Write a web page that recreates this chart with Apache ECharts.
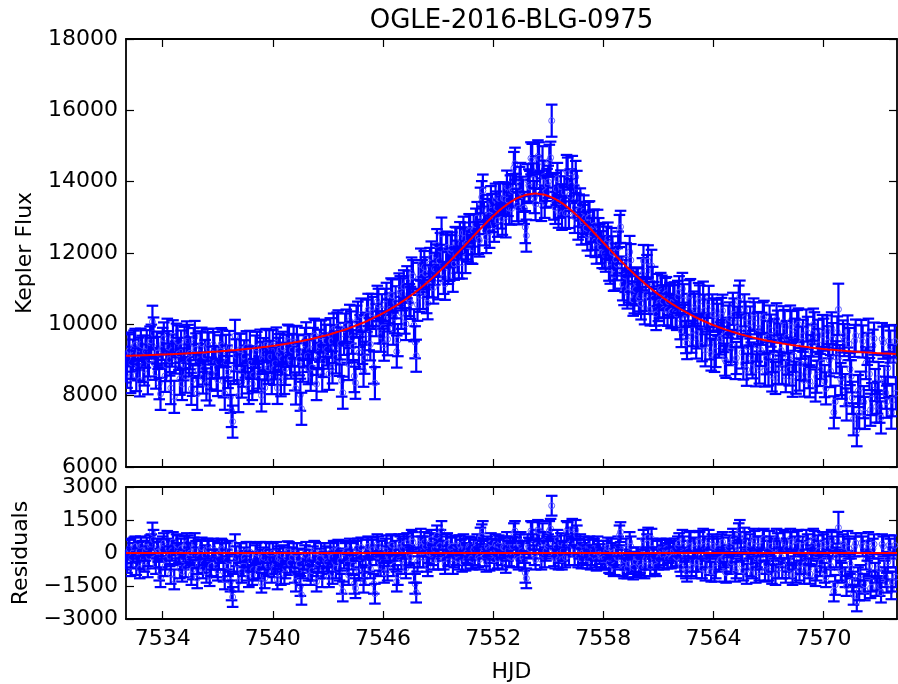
<!DOCTYPE html>
<html><head><meta charset="utf-8">
<script src="https://cdn.jsdelivr.net/npm/echarts@6/dist/echarts.min.js"></script>
<style>html,body{margin:0;padding:0;background:#fff}#c{width:898px;height:684px}</style>
</head><body><div id="c"></div>
<script>
// Observation times, cadence set A (HJD - 2450000)
const hjdA = [
7532.06,7532.19,7532.31,7532.44,7532.56,7532.69,7532.81,7532.94,
7533.06,7533.19,7533.31,7533.44,7533.56,7533.69,7533.81,7533.94,
7534.06,7534.19,7534.31,7534.44,7534.56,7534.69,7534.81,7534.94,
7535.06,7535.19,7535.31,7535.44,7535.56,7535.69,7535.81,7535.94,
7536.06,7536.19,7536.31,7536.44,7536.56,7536.69,7536.81,7536.94,
7537.06,7537.19,7537.31,7537.44,7537.56,7537.69,7537.81,7537.94,
7538.06,7538.19,7538.31,7538.44,7538.56,7538.69,7538.81,7538.94,
7539.06,7539.19,7539.31,7539.44,7539.56,7539.69,7539.81,7539.94,
7540.06,7540.19,7540.31,7540.44,7540.56,7540.69,7540.81,7540.94,
7541.06,7541.19,7541.31,7541.44,7541.56,7541.69,7541.81,7541.94,
7542.06,7542.19,7542.31,7542.44,7542.56,7542.69,7542.81,7542.94,
7543.06,7543.19,7543.31,7543.44,7543.56,7543.69,7543.81,7543.94,
7544.06,7544.19,7544.31,7544.44,7544.56,7544.69,7544.81,7544.94,
7545.06,7545.19,7545.31,7545.44,7545.56,7545.69,7545.81,7545.94,
7546.06,7546.19,7546.31,7546.44,7546.56,7546.69,7546.81,7546.94,
7547.06,7547.19,7547.31,7547.44,7547.56,7547.69,7547.81,7547.94,
7548.06,7548.19,7548.31,7548.44,7548.56,7548.69,7548.81,7548.94,
7549.06,7549.19,7549.31,7549.44,7549.56,7549.69,7549.81,7549.94,
7550.06,7550.19,7550.31,7550.44,7550.56,7550.69,7550.81,7550.94,
7551.06,7551.19,7551.31,7551.44,7551.56,7551.69,7551.81,7551.94,
7552.06,7552.19,7552.31,7552.44,7552.56,7552.69,7552.81,7552.94,
7553.06,7553.19,7553.31,7553.44,7553.56,7553.69,7553.81,7553.94,
7554.06,7554.19,7554.31,7554.44,7554.56,7554.69,7554.81,7554.94,
7555.06,7555.19,7555.31,7555.44,7555.56,7555.69,7555.81,7555.94,
7556.06,7556.19,7556.31,7556.44,7556.56,7556.69,7556.81,7556.94,
7557.06,7557.19,7557.31,7557.44,7557.56,7557.69,7557.81,7557.94,
7558.06,7558.19,7558.31,7558.44,7558.56,7558.69,7558.81,7558.94,
7559.06,7559.19,7559.31,7559.44,7559.56,7559.69,7559.81,7559.94,
7560.06,7560.19,7560.31,7560.44,7560.56,7560.69,7560.81,7560.94,
7561.06,7561.19,7561.31,7561.44,7561.56,7561.69,7561.81,7561.94,
7562.06,7562.19,7562.31,7562.44,7562.56,7562.69,7562.81,7562.94,
7563.06,7563.19,7563.31,7563.44,7563.56,7563.69,7563.81,7563.94,
7564.06,7564.19,7564.31,7564.44,7564.56,7564.69,7564.81,7564.94,
7565.06,7565.19,7565.31,7565.44,7565.56,7565.69,7565.81,7565.94,
7566.06,7566.19,7566.31,7566.44,7566.56,7566.69,7566.81,7566.94,
7567.06,7567.19,7567.31,7567.44,7567.56,7567.69,7567.81,7567.94,
7568.06,7568.19,7568.31,7568.44,7568.56,7568.69,7568.81,7568.94,
7569.06,7569.19,7569.31,7569.44,7569.56,7569.69,7569.81,7569.94,
7570.06,7570.19,7570.31,7570.44,7570.56,7570.69,7570.81,7570.94,
7571.06,7571.19,7571.31,7571.44,7571.56,7571.69,7571.81,7571.94,
7572.06,7572.19,7572.31,7572.44,7572.56,7572.69,7572.81,7572.94,
7573.06,7573.19,7573.31,7573.44,7573.56,7573.69,7573.81,7573.94
];

// Kepler flux, set A
const fluxA = [
8669,9270,8922,9374,8576,9178,9430,8832,
9235,8487,9489,10072,8894,9347,8349,9302,
9604,8857,9359,8212,9665,9068,9521,8474,
8327,9480,9634,8987,8191,9444,9298,8701,
9355,8509,9114,9418,8173,8927,9332,8586,
8941,9446,8401,9256,8662,7967,7272,9677,
8783,9290,8396,9103,9359,8216,8922,8579,
9236,8544,9402,9060,8219,8877,9385,8493,
8752,9462,9172,8432,9342,8752,9542,9022,
9282,8595,9507,9020,7632,9245,9608,8771,
8585,9451,9667,9033,9399,8565,9681,9297,
8613,9533,9853,9073,9943,9463,8083,9853,
9374,10099,9624,8549,10074,9199,10274,8699,
9876,10407,9438,10320,8351,10632,9914,10395,
9429,10715,10249,10840,9877,10618,9556,10901,
10842,10188,11180,10679,11425,9974,9120,11275,
11675,10880,11431,10590,11694,11203,11558,12221,
11780,12544,11302,12069,11582,12049,11361,12282,
11897,12418,11732,12404,12270,12642,12158,12630,
12795,12416,13382,13750,12663,13181,12594,13206,
12763,13275,13532,13135,13534,12887,13485,13726,
13763,14503,13340,13965,13689,13264,12487,13896,
14654,14062,13370,14710,13854,14544,13434,13909,
14585,15710,13384,13794,13157,13866,13478,13125,
14226,13623,14273,13011,13854,13192,12684,13166,
12703,12985,12371,12750,12335,12763,12347,12026,
12009,12288,11672,12251,11387,11816,12151,12733,
11121,11354,10892,12029,11020,10757,11148,10739,
10585,11776,10822,11767,10417,11162,10412,10963,
10617,10918,10423,10877,10635,10340,10649,10358,
10771,10030,10993,10157,9473,10787,9653,10471,
9490,10708,9828,10749,9272,10243,9466,10390,
9115,10239,9515,10292,9671,8948,10076,9305,
10436,8915,10046,10777,9211,10392,8726,9859,
9043,10277,8711,9896,9282,10168,8704,9641,
10079,8566,9703,10141,8780,9268,10058,8547,
9038,10078,8418,9709,9951,8592,9484,8424,
9966,8658,9249,9992,8285,9678,8721,9813,
8407,9800,8993,9887,7532,9076,10420,8465,
9660,8155,9800,8745,7940,9536,7031,7526,
9672,7817,8913,9709,7605,9401,8297,7943,
7690,9587,8383,7830,9527,7523,8970,8067
];

// Fitted model at set A times
const modelA = [
9119,9120,9122,9124,9126,9128,9130,9132,
9135,9137,9139,9142,9144,9147,9149,9152,
9154,9157,9159,9162,9165,9168,9171,9174,
9177,9180,9184,9187,9191,9194,9198,9201,
9205,9209,9214,9218,9223,9227,9232,9236,
9241,9246,9251,9256,9262,9267,9272,9277,
9283,9290,9296,9303,9309,9316,9322,9329,
9336,9344,9352,9360,9369,9377,9385,9393,
9402,9412,9422,9432,9442,9452,9462,9472,
9482,9495,9507,9520,9532,9545,9558,9571,
9585,9601,9617,9633,9649,9665,9681,9697,
9713,9733,9753,9773,9793,9813,9833,9853,
9874,9899,9924,9949,9974,9999,10024,10049,
10076,10107,10138,10170,10201,10232,10264,10295,
10329,10365,10399,10440,10477,10518,10556,10601,
10642,10688,10730,10779,10825,10874,10920,10975,
11025,11080,11131,11190,11244,11303,11358,11421,
11480,11544,11602,11669,11732,11799,11861,11932,
11997,12068,12132,12204,12270,12342,12408,12480,
12545,12616,12682,12750,12813,12881,12944,13006,
13063,13125,13182,13235,13284,13337,13385,13426,
13463,13503,13540,13565,13589,13614,13637,13646,
13654,13662,13670,13660,13654,13644,13634,13609,
13585,13560,13534,13494,13457,13416,13378,13325,
13276,13223,13173,13111,13054,12992,12934,12866,
12803,12735,12671,12600,12535,12463,12397,12326,
12259,12188,12122,12051,11987,11916,11851,11783,
11721,11654,11592,11529,11470,11407,11348,11289,
11235,11176,11122,11067,11017,10962,10912,10863,
10817,10768,10723,10677,10635,10590,10549,10508,
10471,10430,10393,10357,10323,10287,10253,10221,
10190,10158,10128,10099,10072,10043,10016,9990,
9965,9939,9915,9892,9871,9848,9826,9805,
9786,9765,9746,9727,9711,9692,9676,9659,
9643,9627,9611,9596,9582,9568,9554,9541,
9529,9516,9503,9491,9480,9468,9458,9447,
9438,9428,9418,9409,9401,9392,9384,9374,
9366,9358,9349,9342,9335,9328,9321,9313,
9307,9300,9293,9287,9282,9276,9270,9265,
9260,9255,9250,9245,9240,9236,9231,9226,
9222,9217,9213,9209,9205,9201,9197,9193,
9190,9187,9183,9180,9177,9173,9170,9167
];

// Observation times, cadence set B
const hjdB = [
7532.00,7532.13,7532.25,7532.38,7532.50,7532.63,7532.75,7532.88,
7533.00,7533.13,7533.25,7533.38,7533.50,7533.63,7533.75,7533.88,
7534.00,7534.13,7534.25,7534.38,7534.50,7534.63,7534.75,7534.88,
7535.00,7535.13,7535.25,7535.38,7535.50,7535.63,7535.75,7535.88,
7536.00,7536.13,7536.25,7536.38,7536.50,7536.63,7536.75,7536.88,
7537.00,7537.13,7537.25,7537.38,7537.50,7537.63,7537.75,7537.88,
7538.00,7538.13,7538.25,7538.38,7538.50,7538.63,7538.75,7538.88,
7539.00,7539.13,7539.25,7539.38,7539.50,7539.63,7539.75,7539.88,
7540.00,7540.13,7540.25,7540.38,7540.50,7540.63,7540.75,7540.88,
7541.00,7541.13,7541.25,7541.38,7541.50,7541.63,7541.75,7541.88,
7542.00,7542.13,7542.25,7542.38,7542.50,7542.63,7542.75,7542.88,
7543.00,7543.13,7543.25,7543.38,7543.50,7543.63,7543.75,7543.88,
7544.00,7544.13,7544.25,7544.38,7544.50,7544.63,7544.75,7544.88,
7545.00,7545.13,7545.25,7545.38,7545.50,7545.63,7545.75,7545.88,
7546.00,7546.13,7546.25,7546.38,7546.50,7546.63,7546.75,7546.88,
7547.00,7547.13,7547.25,7547.38,7547.50,7547.63,7547.75,7547.88,
7548.00,7548.13,7548.25,7548.38,7548.50,7548.63,7548.75,7548.88,
7549.00,7549.13,7549.25,7549.38,7549.50,7549.63,7549.75,7549.88,
7550.00,7550.13,7550.25,7550.38,7550.50,7550.63,7550.75,7550.88,
7551.00,7551.13,7551.25,7551.38,7551.50,7551.63,7551.75,7551.88,
7552.00,7552.13,7552.25,7552.38,7552.50,7552.63,7552.75,7552.88,
7553.00,7553.13,7553.25,7553.38,7553.50,7553.63,7553.75,7553.88,
7554.00,7554.13,7554.25,7554.38,7554.50,7554.63,7554.75,7554.88,
7555.00,7555.13,7555.25,7555.38,7555.50,7555.63,7555.75,7555.88,
7556.00,7556.13,7556.25,7556.38,7556.50,7556.63,7556.75,7556.88,
7557.00,7557.13,7557.25,7557.38,7557.50,7557.63,7557.75,7557.88,
7558.00,7558.13,7558.25,7558.38,7558.50,7558.63,7558.75,7558.88,
7559.00,7559.13,7559.25,7559.38,7559.50,7559.63,7559.75,7559.88,
7560.00,7560.13,7560.25,7560.38,7560.50,7560.63,7560.75,7560.88,
7561.00,7561.13,7561.25,7561.38,7561.50,7561.63,7561.75,7561.88,
7562.00,7562.13,7562.25,7562.38,7562.50,7562.63,7562.75,7562.88,
7563.00,7563.13,7563.25,7563.38,7563.50,7563.63,7563.75,7563.88,
7564.00,7564.13,7564.25,7564.38,7564.50,7564.63,7564.75,7564.88,
7565.00,7565.13,7565.25,7565.38,7565.50,7565.63,7565.75,7565.88,
7566.00,7566.13,7566.25,7566.38,7566.50,7566.63,7566.75,7566.88,
7567.00,7567.13,7567.25,7567.38,7567.50,7567.63,7567.75,7567.88,
7568.00,7568.13,7568.25,7568.38,7568.50,7568.63,7568.75,7568.88,
7569.00,7569.13,7569.25,7569.38,7569.50,7569.63,7569.75,7569.88,
7570.00,7570.13,7570.25,7570.38,7570.50,7570.63,7570.75,7570.88,
7571.00,7571.13,7571.25,7571.38,7571.50,7571.63,7571.75,7571.88,
7572.00,7572.13,7572.25,7572.38,7572.50,7572.63,7572.75,7572.88,
7573.00,7573.13,7573.25,7573.38,7573.50,7573.63,7573.75,7573.88
];

// Kepler flux, set B
const fluxB = [
8818,9320,8521,9123,9425,8877,8429,9231,
8734,9386,8988,9541,9743,8646,9198,8051,
9453,8556,9708,9011,9264,7967,9570,9173,
9376,8879,8532,9536,9189,8443,9646,8050,
9003,9457,8762,8316,9321,8625,9430,8934,
8439,9244,9399,8054,8959,9365,7570,8775,
9130,7987,9293,8700,8956,8513,9369,8326,
8933,9340,8648,8006,9165,9423,8781,9089,
9398,8907,8217,9277,9037,8497,9257,9517,
8927,9489,8201,9264,8026,8839,9452,9115,
9278,8793,9709,8325,9191,9657,8973,9539,
9205,9723,8793,9363,9883,9003,8423,9593,
9964,8887,9912,9387,8362,10187,9812,9337,
9063,10242,9723,10404,8786,10117,10548,9680,
9912,10547,9582,10420,10809,10198,9237,10979,
10322,11065,10009,11055,10602,11350,9497,10548,
10800,11353,11606,10761,11217,11874,11031,11790,
11151,12112,11673,11136,12151,11666,12130,11697,
12265,11733,12250,12568,11887,12206,12625,12144,
12413,12981,12349,13566,12982,12447,13063,13425,
13035,13494,12904,13509,12960,13511,13861,13256,
13245,14383,13772,13253,14077,13602,12726,14042,
13850,14608,13567,14265,14656,13347,14139,13720,
13997,14672,13747,13264,14076,13437,13097,13702,
14300,13150,13898,13442,14133,12823,13363,12900,
12985,12519,13003,12536,12768,12149,12530,12162,
12393,11924,12405,11587,12019,11402,11684,12617,
11452,10988,11823,11061,11800,10689,10978,11119,
10812,11406,10449,11495,10742,11640,10737,10288,
10540,10993,10646,10850,10406,10713,10370,10729,
10290,10901,9812,10675,9640,10405,10820,9837,
10406,9774,10643,9414,10386,9858,10630,9153,
10278,9252,10127,9604,10382,9010,9737,10166,
9396,10276,9056,10637,9819,8902,10184,9368,
10051,8935,10169,9404,8789,9875,10211,9048,
8735,9823,9110,8497,9936,9574,8763,9953,
9643,8733,9923,9114,8505,9997,8888,9679,
8870,9762,8404,9546,9889,8532,9425,8917,
9710,8204,9497,8690,9585,7829,9773,8968,
8363,9558,7753,9448,8543,7338,9684,8129,
8224,9520,7515,9311,8607,7903,9599,7695,
8492,7389,9485,8082,8779,9375,7872,9519
];

// Fitted model at set B times
const modelB = [
9118,9120,9121,9123,9125,9127,9129,9131,
9134,9136,9138,9141,9143,9146,9148,9151,
9153,9156,9158,9161,9164,9167,9170,9173,
9176,9179,9182,9186,9189,9193,9196,9200,
9203,9207,9212,9216,9221,9225,9230,9234,
9239,9244,9249,9254,9259,9265,9270,9275,
9280,9287,9293,9300,9306,9313,9319,9326,
9333,9340,9348,9356,9365,9373,9381,9389,
9398,9407,9417,9427,9437,9447,9457,9467,
9477,9489,9501,9514,9526,9539,9552,9565,
9578,9593,9609,9625,9641,9657,9673,9689,
9705,9723,9743,9763,9783,9803,9823,9843,
9864,9887,9912,9937,9962,9987,10012,10037,
10063,10092,10123,10154,10186,10217,10248,10280,
10312,10347,10382,10420,10459,10498,10537,10579,
10622,10665,10709,10755,10802,10850,10897,10948,
11000,11053,11106,11161,11217,11274,11331,11390,
11451,11512,11573,11636,11701,11766,11830,11897,
11965,12033,12100,12168,12237,12306,12375,12444,
12513,12581,12649,12716,12782,12847,12913,12975,
13035,13094,13154,13209,13260,13311,13361,13406,
13445,13483,13522,13553,13577,13602,13626,13642,
13650,13658,13667,13665,13656,13647,13639,13620,
13597,13572,13547,13514,13476,13437,13397,13352,
13300,13250,13198,13142,13083,13023,12963,12900,
12835,12769,12703,12636,12568,12499,12430,12362,
12293,12224,12155,12087,12019,11952,11884,11817,
11752,11688,11623,11561,11500,11439,11378,11319,
11262,11206,11149,11095,11042,10990,10937,10888,
10840,10793,10746,10700,10656,10613,10570,10529,
10490,10451,10412,10375,10340,10305,10270,10237,
10206,10174,10143,10114,10086,10058,10030,10003,
9978,9952,9927,9904,9882,9860,9837,9816,
9796,9776,9756,9737,9719,9702,9684,9668,
9651,9635,9619,9604,9589,9575,9561,9548,
9535,9523,9510,9497,9486,9474,9463,9453,
9443,9433,9423,9414,9405,9397,9388,9379,
9370,9362,9354,9346,9339,9332,9325,9317,
9310,9304,9297,9290,9285,9279,9273,9268,
9263,9258,9253,9248,9243,9238,9234,9229,
9224,9220,9215,9211,9207,9203,9199,9195,
9192,9189,9185,9182,9179,9175,9172,9169
];

// Flux uncertainty (typical), with the one larger error bar
const fluxErrTypical = 450;
const fluxErrLarge = [[7570.81, 720]];

const xTicks = [7534, 7540, 7546, 7552, 7558, 7564, 7570];
const zeroLine = [[7532, 0], [7574, 0]];

const FONT = 'DejaVu Sans';
const errOf = t => { const o = fluxErrLarge.find(p => p[0] === t); return o ? o[1] : fluxErrTypical; };
const obs = hjdA.map((t, i) => [t, fluxA[i], modelA[i]])
  .concat(hjdB.map((t, i) => [t, fluxB[i], modelB[i]]))
  .sort((a, b) => a[0] - b[0]);
const fluxData = obs.map(o => [o[0], o[1], errOf(o[0])]);
const residData = obs.map(o => [o[0], o[1] - o[2], errOf(o[0])]);
const modelData = obs.map(o => [o[0], o[2]]);

function errRender(params, api) {
  const x = api.value(0), y = api.value(1), e = api.value(2);
  const p = api.coord([x, y]);
  const hi = api.coord([x, y + e]);
  const lo = api.coord([x, y - e]);
  const cs = params.coordSys;
  const L = cs.x, R = cs.x + cs.width, T = cs.y, B = cs.y + cs.height;
  const cx = v => Math.max(L, Math.min(R, v));
  const cy = v => Math.max(T, Math.min(B, v));
  const cap = 5.8;
  const st = { stroke: '#0000ff', lineWidth: 2.2 };
  const ch = [];
  ch.push({ type: 'line', shape: { x1: p[0], y1: cy(hi[1]), x2: p[0], y2: cy(lo[1]) }, style: st });
  if (hi[1] >= T) ch.push({ type: 'line', shape: { x1: cx(p[0] - cap), y1: hi[1], x2: cx(p[0] + cap), y2: hi[1] }, style: st });
  if (lo[1] <= B) ch.push({ type: 'line', shape: { x1: cx(p[0] - cap), y1: lo[1], x2: cx(p[0] + cap), y2: lo[1] }, style: st });
  if (p[1] >= T && p[1] <= B && p[0] - 3 >= L)
    ch.push({ type: 'circle', shape: { cx: p[0], cy: p[1], r: 3 }, style: { fill: 'transparent', stroke: 'rgba(80,80,255,0.9)', lineWidth: 1 } });
  return { type: 'group', children: ch };
}

const lineSt = { color: '#000', width: 1.8 };
function xAx(grid, pos, labels) {
  return {
    type: 'value', gridIndex: grid, position: pos, min: 7532, max: 7574,
    axisLine: { show: true, onZero: false, lineStyle: lineSt },
    axisTick: { show: true, inside: true, length: 8, customValues: xTicks, lineStyle: { color: '#000', width: 1.2 } },
    axisLabel: { show: labels, customValues: xTicks, fontSize: 22, color: '#000', fontFamily: FONT, margin: 9, formatter: v => String(v) },
    splitLine: { show: false }
  };
}
function yAx(grid, pos, labels, min, max, interval, fmt) {
  return {
    type: 'value', gridIndex: grid, position: pos, min, max, interval,
    axisLine: { show: true, onZero: false, lineStyle: lineSt },
    axisTick: { show: true, inside: true, length: 8, lineStyle: { color: '#000', width: 1.2 } },
    axisLabel: { show: labels, fontSize: 22, color: '#000', fontFamily: FONT, margin: 8, showMinLabel: true, showMaxLabel: true, formatter: fmt },
    splitLine: { show: false }
  };
}
const minus = v => String(v).replace('-', '\u2212');

const chart = echarts.init(document.getElementById('c'), null, { renderer: 'canvas' });
chart.setOption({
  animation: false,
  backgroundColor: '#fff',
  grid: [
    { left: 126, top: 39, width: 771, height: 428 },
    { left: 126, top: 487, width: 771, height: 132 }
  ],
  xAxis: [xAx(0, 'bottom', false), xAx(0, 'top', false), xAx(1, 'bottom', true), xAx(1, 'top', false)],
  yAxis: [
    yAx(0, 'left', true, 6000, 18000, 2000, minus),
    yAx(0, 'right', false, 6000, 18000, 2000, minus),
    yAx(1, 'left', true, -3000, 3000, 1500, minus),
    yAx(1, 'right', false, -3000, 3000, 1500, minus)
  ],
  graphic: [
    { type: 'text', x: 511.5, y: 21, style: { text: 'OGLE-2016-BLG-0975', font: '26px "DejaVu Sans"', fill: '#000', textAlign: 'center', textVerticalAlign: 'middle' } },
    { type: 'text', x: 511.5, y: 672, style: { text: 'HJD', font: '22px "DejaVu Sans"', fill: '#000', textAlign: 'center', textVerticalAlign: 'middle' } },
    { type: 'text', x: 25, y: 253, rotation: Math.PI / 2, style: { text: 'Kepler Flux', font: '22px "DejaVu Sans"', fill: '#000', textAlign: 'center', textVerticalAlign: 'middle' } },
    { type: 'text', x: 21, y: 553, rotation: Math.PI / 2, style: { text: 'Residuals', font: '22px "DejaVu Sans"', fill: '#000', textAlign: 'center', textVerticalAlign: 'middle' } }
  ],
  series: [
    { type: 'custom', xAxisIndex: 0, yAxisIndex: 0, data: fluxData, renderItem: errRender, encode: { x: 0, y: 1 }, z: 2, silent: true, progressive: 0 },
    { type: 'line', xAxisIndex: 0, yAxisIndex: 0, data: modelData, showSymbol: false, symbol: 'none', lineStyle: { color: '#ff0000', width: 2 }, z: 5, silent: true },
    { type: 'custom', xAxisIndex: 2, yAxisIndex: 2, data: residData, renderItem: errRender, encode: { x: 0, y: 1 }, z: 2, silent: true, progressive: 0 },
    { type: 'line', xAxisIndex: 2, yAxisIndex: 2, data: zeroLine, showSymbol: false, symbol: 'none', lineStyle: { color: '#ff0000', width: 2 }, z: 5, silent: true }
  ]
});
</script>
</body></html>
